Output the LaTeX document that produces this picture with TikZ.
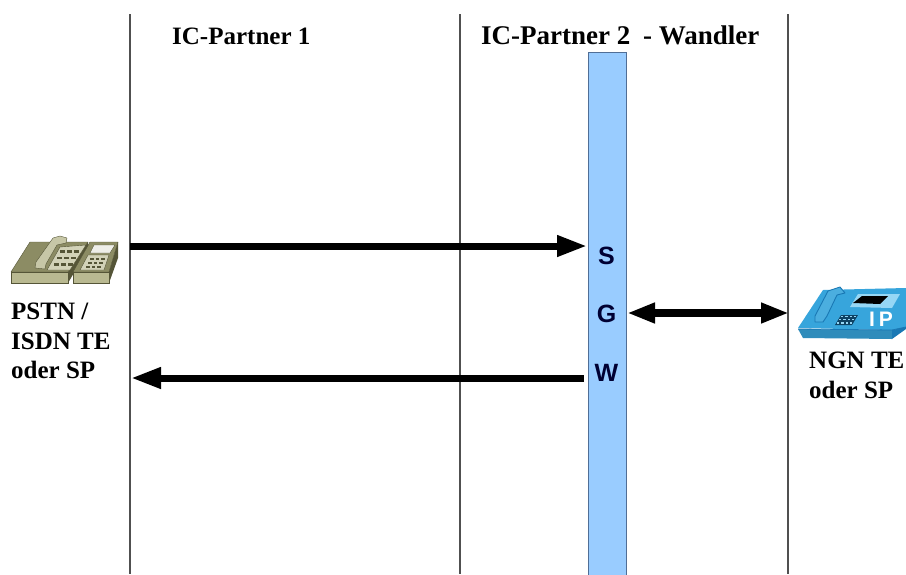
\documentclass[tikz,border=0pt]{standalone}
\usepackage{fontspec}
\setmainfont{Liberation Serif}
\setsansfont{Liberation Sans}
\usetikzlibrary{arrows.meta}
\definecolor{barblue}{RGB}{153,204,255}
\definecolor{barline}{RGB}{80,110,150}
\definecolor{laneline}{RGB}{80,80,80}
\definecolor{olivetop}{RGB}{140,140,100}
\definecolor{olivefront}{RGB}{185,185,145}
\definecolor{olivedark}{RGB}{85,85,55}
\definecolor{ipblue}{RGB}{55,165,220}
\definecolor{ipdark}{RGB}{25,120,180}
\definecolor{iplight}{RGB}{150,215,245}
\tikzset{
  lane/.style={draw=laneline, line width=1.1pt},
  flow/.style={line width=7pt, -{Triangle[length=30pt,width=20pt]}},
  flowboth/.style={line width=7.5pt, {Triangle[length=28pt,width=19pt]}-{Triangle[length=28pt,width=19pt]}},
  head/.style={font=\bfseries\fontsize{25}{28}\selectfont, anchor=base west, inner sep=0pt},
  caption/.style={font=\bfseries\fontsize{25}{29.5}\selectfont, align=left, anchor=north west, inner sep=0pt},
  sgw/.style={font=\sffamily\bfseries\fontsize{25}{28}\selectfont, text=black!80!blue}
}
\begin{document}
\begin{tikzpicture}[x=1pt,y=-1pt]
\useasboundingbox (0,0) rectangle (906,574);
\fill[white] (0,0) rectangle (906,574);

% lanes
\coordinate (laneA) at (130,14);
\coordinate (laneAend) at (130,574);
\coordinate (laneB) at (460,14);
\coordinate (laneBend) at (460,574);
\coordinate (laneC) at (788,14);
\coordinate (laneCend) at (788,574);
\draw[lane] (laneA) -- (laneAend);
\draw[lane] (laneB) -- (laneBend);
\draw[lane] (laneC) -- (laneCend);

\node[head] (partnerA) at (172,44) {IC-Partner 1};
\node[head, font=\bfseries\fontsize{27}{30}\selectfont] (partnerB) at (481,44) {IC-Partner 2\hspace{6pt} - Wandler};

% wandler bar
\node[draw=barline, fill=barblue, line width=1.1pt, minimum width=38pt, minimum height=530pt, inner sep=0pt, anchor=north] (bar) at (607.5,52) {};
\node[sgw] (letterS) at (606.5,256) {S};
\node[sgw] (letterG) at (606.5,314) {G};
\node[sgw] (letterW) at (606.5,373) {W};

% left phone
\fill[olivetop, draw=olivedark, line join=round] (11,272) -- (30,242) -- (88,242) -- (68,272) -- cycle;
\fill[olivefront, draw=olivedark] (11,272) rectangle (68,283);
\fill[olivedark] (68,272) -- (88,242) -- (88,249) -- (68,283) -- cycle;
\fill[olivetop, draw=olivedark, line join=round] (73,272) -- (90,242) -- (118,242) -- (109,272) -- cycle;
\fill[olivefront, draw=olivedark] (73,272) rectangle (109,283);
\fill[olivedark] (109,272) -- (118,242) -- (118,258) -- (109,283) -- cycle;
\fill[olivefront!65!white, draw=olivedark] (60,247) -- (86,245) -- (70,270) -- (47,270) -- cycle;
\fill[white!85!olivetop, draw=olivedark] (94,245) -- (115,245) -- (110,253) -- (90,253) -- cycle;
\fill[olivefront!65!white, draw=olivedark] (88,255) -- (109,255) -- (104,270) -- (80,270) -- cycle;
\foreach \row in {0,1,2}
  \foreach \col in {0,1,2} {
    \fill[olivedark] (60+\col*7-\row*3,250+\row*6.5) rectangle ++(4.5,2.6);
    \fill[olivedark] (90+\col*5.5-\row*2,258+\row*4) rectangle ++(3.5,1.8);
  }
\fill[olivefront!80!white, draw=olivedark, line join=round] (35,268) -- (36,262) -- (53,238) -- (60,236) -- (67,238) -- (66,243) -- (57,245) -- (46,264) -- (45,269) -- cycle;
\node[inner sep=0pt, minimum width=108pt, minimum height=44pt] (phoneL) at (64,260) {};

% right phone
\fill[ipblue] (798,328) -- (823,290) -- (906,288) -- (906,327) -- (892,330) -- cycle;
\fill[ipblue!85!black] (798,329) -- (892,330) -- (892,339) -- (803,338) -- cycle;
\fill[ipdark] (892,330) -- (906,327) -- (906,329) -- (892,339) -- cycle;
\draw[ipdark, line width=0.8pt] (798,329) -- (892,330) -- (906,327);
\fill[ipblue!90!white, draw=ipdark, line width=0.9pt, line join=round] (815,322) -- (815,316) -- (828,291) -- (840,287) -- (845,293) -- (837,295) -- (827,316) -- (823,322) -- cycle;
\fill[iplight] (858,294) -- (900,294) -- (892,308) -- (850,307) -- cycle;
\fill[black] (862,296) -- (888,296) -- (880,304) -- (853,303) -- cycle;
\fill[ipdark!55!black] (841,315) -- (858,315) -- (852,325) -- (835,325) -- cycle;
\foreach \row in {0,1,2}
  \foreach \col in {0,1,2,3}
    \fill[iplight] (841+\col*4.3-\row*2,315.6+\row*3.2) rectangle ++(2.4,1.6);
\node[font=\sffamily\bfseries\fontsize{21}{22}\selectfont, text=white, inner sep=0pt] (labelIP) at (881,319) {I\hspace{4pt}P};
\node[inner sep=0pt, minimum width=110pt, minimum height=54pt] (phoneR) at (851,313) {};

% captions
\node[caption] (captionL) at (11,303) {PSTN /\\ISDN TE\\oder SP};
\node[caption] (captionR) at (809,352) {NGN TE\\oder SP};

% signal flows
\coordinate (inA) at (130,246);
\coordinate (inB) at (587,246);
\coordinate (outA) at (584,378);
\coordinate (outB) at (131,378);
\coordinate (ngnA) at (627,313);
\coordinate (ngnB) at (789,313);
\draw[flow] (inA) -- (inB);
\draw[flow] (outA) -- (outB);
\draw[flowboth] (ngnA) -- (ngnB);
\end{tikzpicture}
\end{document}
